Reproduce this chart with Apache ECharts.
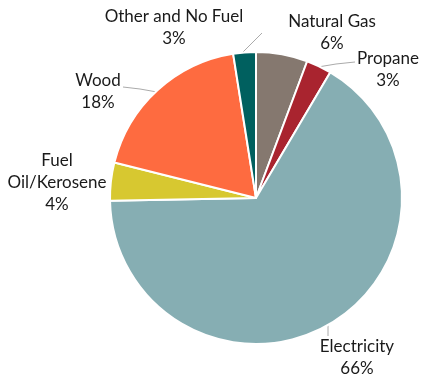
<!DOCTYPE html>
<html><head><meta charset="utf-8">
<script src="https://cdn.jsdelivr.net/npm/echarts@6/dist/echarts.min.js"></script>
<style>html,body{margin:0;padding:0;background:#fff}#c{width:423px;height:381px}</style>
</head><body><div id="c"></div>
<script>
const categories = ["Natural Gas", "Propane", "Electricity", "Fuel\nOil/Kerosene", "Wood", "Other and No Fuel"];
const values = [5.7, 2.8, 66.2, 4.2, 18.6, 2.5];
const pctLabels = ["6%", "3%", "66%", "4%", "18%", "3%"];
const colors = ["#85786f", "#a9242f", "#86aeb3", "#d7c830", "#fe6b40", "#00605f"];

// label placement (layout only)
const labelCenters = [[332, 33], [388, 70], [357, 358], [57, 183], [98, 92], [174, 28]];
const labelLines = [
  null,
  [[318, 67], [336, 64], [355, 62]],
  [[328, 325], [328, 330], [328, 336]],
  null,
  [[157, 92], [140, 89], [123, 87]],
  [[243, 52], [252, 43], [262, 33]]
];

const chart = echarts.init(document.getElementById('c'), null, {renderer: 'canvas'});
chart.setOption({
  animation: false,
  series: [{
    type: 'pie',
    center: [256, 198],
    radius: 146,
    startAngle: 90,
    clockwise: true,
    avoidLabelOverlap: false,
    itemStyle: {borderColor: '#fff', borderWidth: 2},
    label: {
      show: true,
      position: 'outside',
      fontFamily: 'Lato',
      fontSize: 17,
      lineHeight: 22,
      color: '#1a1a1a',
      align: 'center',
      formatter: p => p.name + '\n' + pctLabels[p.dataIndex]
    },
    labelLine: {show: true, length: 10, length2: 20, lineStyle: {color: '#aaaaaa', width: 1}},
    labelLayout: function (params) {
      const i = params.dataIndex;
      const r = {x: labelCenters[i][0], y: labelCenters[i][1], align: 'center', verticalAlign: 'middle'};
      if (labelLines[i]) r.labelLinePoints = labelLines[i];
      return r;
    },
    data: categories.map((c, i) => ({
      name: c, value: values[i], itemStyle: {color: colors[i]},
      labelLine: {show: !!labelLines[i]}
    }))
  }]
});
</script></body></html>
